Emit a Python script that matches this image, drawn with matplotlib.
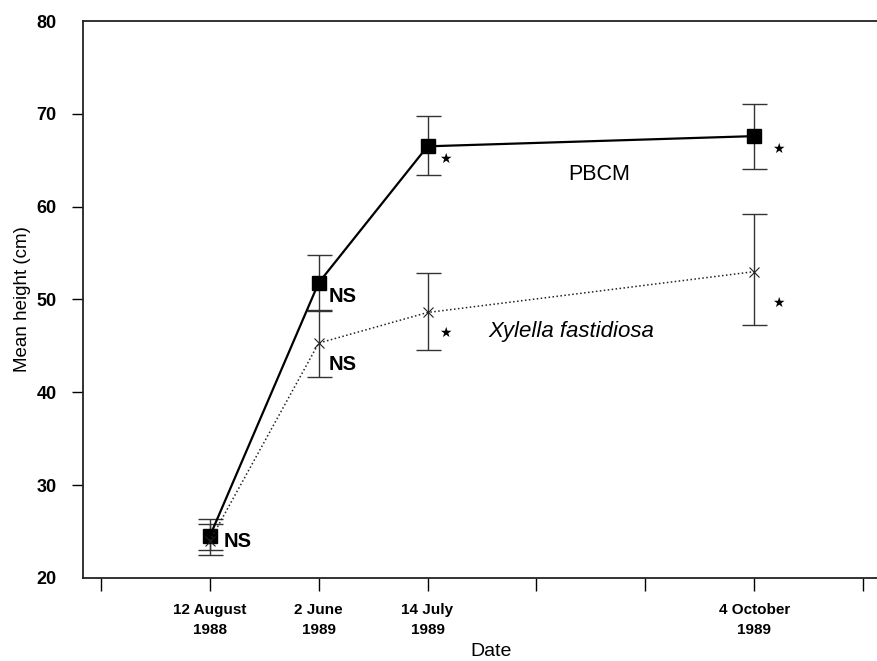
import matplotlib
matplotlib.use("Agg")
import matplotlib.pyplot as plt

plt.rcParams['font.family'] = ['Liberation Sans', 'DejaVu Sans']

# Data
positions = [1, 2, 3, 6]
tick_positions = [0, 1, 2, 3, 4, 5, 6, 7]
tick_labels = ["", "12 August\n1988", "2 June\n1989", "14 July\n1989", "", "", "4 October\n1989", ""]

pbcm_mean = [24.5, 51.8, 66.5, 67.6]
pbcm_low = [22.5, 48.8, 63.4, 64.1]
pbcm_high = [26.4, 54.8, 69.8, 71.1]

xyl_mean = [24.0, 45.3, 48.6, 53.0]
xyl_low = [23.0, 41.7, 44.6, 47.3]
xyl_high = [25.8, 48.9, 52.9, 59.2]

# significance annotations (x, y, text)
sig_pos_x = [1.13, 2.09, 2.09, 3.16, 6.22, 3.16, 6.22]
sig_pos_y = [23.9, 50.3, 43.0, 65.1, 66.2, 46.4, 49.6]
sig_text = ["NS", "NS", "NS", "*", "*", "*", "*"]

fig = plt.figure(figsize=(8.78, 6.61), dpi=100)
ax = fig.add_axes([83/878, 83/661, (900-83)/878, (578-21)/661])

ax.set_xlim(-0.165, 7.34)
ax.set_ylim(20, 80)

ecol = '#333333'
ax.errorbar(positions, pbcm_mean,
            yerr=[[m - l for m, l in zip(pbcm_mean, pbcm_low)],
                  [h - m for m, h in zip(pbcm_mean, pbcm_high)]],
            fmt='none', ecolor=ecol, elinewidth=1.0, capsize=9, capthick=1.0, zorder=2)
ax.errorbar(positions, xyl_mean,
            yerr=[[m - l for m, l in zip(xyl_mean, xyl_low)],
                  [h - m for m, h in zip(xyl_mean, xyl_high)]],
            fmt='none', ecolor=ecol, elinewidth=1.0, capsize=9, capthick=1.0, zorder=2)

ax.plot(positions, pbcm_mean, color='black', lw=1.6, marker='s', ms=10,
        markerfacecolor='black', markeredgecolor='black', zorder=3)
ax.plot(positions, xyl_mean, color='#222222', lw=1.1, linestyle=(0, (1, 1.6)), marker='x',
        ms=7, markeredgewidth=0.8, zorder=3)

for x, y, t in zip(sig_pos_x, sig_pos_y, sig_text):
    if t == "*":
        ax.text(x, y, "\u2605", fontsize=10, ha='center', va='center', color='black',
                family=['DejaVu Sans'])
    else:
        ax.text(x, y, t, fontsize=14.5, fontweight='bold', ha='left', va='center')

ax.text(4.58, 63.5, "PBCM", fontsize=15.5, ha='center', va='center')
ax.text(4.32, 46.5, "Xylella fastidiosa", fontsize=16, style='italic', ha='center', va='center')

ax.spines['right'].set_visible(False)
for s in ['left', 'top', 'bottom']:
    ax.spines[s].set_linewidth(1.3)
    ax.spines[s].set_color('#222222')

ax.set_xticks(tick_positions)
ax.set_xticklabels(tick_labels, fontsize=11, fontweight='bold', linespacing=1.5)
ax.tick_params(axis='x', direction='out', length=9, width=1.0, pad=9)

ax.set_yticks([20, 30, 40, 50, 60, 70, 80])
ax.set_yticklabels(["20", "30", "40", "50", "60", "70", "80"], fontsize=13, fontweight='bold')
ax.tick_params(axis='y', direction='out', length=8, width=1.0, pad=11)
yt = ax.yaxis.get_major_ticks()
yt[0].tick1line.set_visible(False)
yt[-1].tick1line.set_visible(False)

ax.set_ylabel("Mean height (cm)", fontsize=13.5, labelpad=4)
ax.set_xlabel("Date", fontsize=14, labelpad=5)

fig.savefig("out.png", dpi=100)
